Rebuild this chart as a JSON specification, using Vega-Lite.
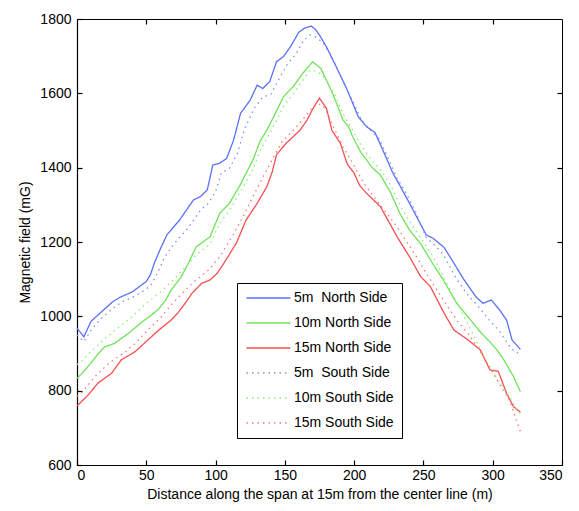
{
"$schema": "https://vega.github.io/schema/vega-lite/v6.json",
"width": 485, "height": 446,
"autosize": "none",
"padding": {"left": 77, "top": 19, "right": 17, "bottom": 46},
"background": "white",
"config": {
  "view": {"stroke": "black", "strokeWidth": 1},
  "font": "Liberation Sans",
  "axis": {"domainColor": "black", "tickColor": "black", "labelColor": "black", "titleColor": "black", "labelFont": "Liberation Sans", "titleFont": "Liberation Sans", "labelFontSize": 14, "titleFontSize": 14, "titleFontWeight": "normal", "grid": false, "tickSize": -5, "domainWidth": 1.2, "tickWidth": 1.2}
},
"datasets": {
"pts": [
{"s":"5m\u00a0 North Side","x":0,"y":968},{"s":"5m\u00a0 North Side","x":5,"y":945},{"s":"5m\u00a0 North Side","x":10,"y":986},{"s":"5m\u00a0 North Side","x":17,"y":1010},{"s":"5m\u00a0 North Side","x":26,"y":1040},{"s":"5m\u00a0 North Side","x":31,"y":1051},{"s":"5m\u00a0 North Side","x":40,"y":1066},{"s":"5m\u00a0 North Side","x":45,"y":1080},{"s":"5m\u00a0 North Side","x":50,"y":1094},{"s":"5m\u00a0 North Side","x":53,"y":1112},{"s":"5m\u00a0 North Side","x":56,"y":1145},{"s":"5m\u00a0 North Side","x":60,"y":1180},{"s":"5m\u00a0 North Side","x":65,"y":1220},{"s":"5m\u00a0 North Side","x":74,"y":1259},{"s":"5m\u00a0 North Side","x":84,"y":1313},{"s":"5m\u00a0 North Side","x":89,"y":1322},{"s":"5m\u00a0 North Side","x":94,"y":1340},{"s":"5m\u00a0 North Side","x":98,"y":1407},{"s":"5m\u00a0 North Side","x":103,"y":1412},{"s":"5m\u00a0 North Side","x":108,"y":1425},{"s":"5m\u00a0 North Side","x":113,"y":1474},{"s":"5m\u00a0 North Side","x":118,"y":1546},{"s":"5m\u00a0 North Side","x":125,"y":1582},{"s":"5m\u00a0 North Side","x":130,"y":1622},{"s":"5m\u00a0 North Side","x":134,"y":1613},{"s":"5m\u00a0 North Side","x":139,"y":1631},{"s":"5m\u00a0 North Side","x":144,"y":1685},{"s":"5m\u00a0 North Side","x":149,"y":1699},{"s":"5m\u00a0 North Side","x":154,"y":1725},{"s":"5m\u00a0 North Side","x":160,"y":1764},{"s":"5m\u00a0 North Side","x":164,"y":1775},{"s":"5m\u00a0 North Side","x":169,"y":1781},{"s":"5m\u00a0 North Side","x":172,"y":1772},{"s":"5m\u00a0 North Side","x":175,"y":1757},{"s":"5m\u00a0 North Side","x":180,"y":1725},{"s":"5m\u00a0 North Side","x":187,"y":1672},{"s":"5m\u00a0 North Side","x":195,"y":1609},{"s":"5m\u00a0 North Side","x":203,"y":1537},{"s":"5m\u00a0 North Side","x":209,"y":1510},{"s":"5m\u00a0 North Side","x":215,"y":1495},{"s":"5m\u00a0 North Side","x":221,"y":1445},{"s":"5m\u00a0 North Side","x":228,"y":1385},{"s":"5m\u00a0 North Side","x":233,"y":1352},{"s":"5m\u00a0 North Side","x":240,"y":1304},{"s":"5m\u00a0 North Side","x":252,"y":1219},{"s":"5m\u00a0 North Side","x":257,"y":1210},{"s":"5m\u00a0 North Side","x":265,"y":1185},{"s":"5m\u00a0 North Side","x":272,"y":1143},{"s":"5m\u00a0 North Side","x":279,"y":1100},{"s":"5m\u00a0 North Side","x":288,"y":1052},{"s":"5m\u00a0 North Side","x":293,"y":1035},{"s":"5m\u00a0 North Side","x":299,"y":1044},{"s":"5m\u00a0 North Side","x":305,"y":1017},{"s":"5m\u00a0 North Side","x":310,"y":990},{"s":"5m\u00a0 North Side","x":314,"y":936},{"s":"5m\u00a0 North Side","x":320,"y":911},

{"s":"10m North Side","x":0,"y":833},{"s":"10m North Side","x":5,"y":852},{"s":"10m North Side","x":10,"y":874},{"s":"10m North Side","x":15,"y":898},{"s":"10m North Side","x":20,"y":918},{"s":"10m North Side","x":27,"y":927},{"s":"10m North Side","x":37,"y":954},{"s":"10m North Side","x":47,"y":985},{"s":"10m North Side","x":54,"y":1004},{"s":"10m North Side","x":59,"y":1020},{"s":"10m North Side","x":64,"y":1044},{"s":"10m North Side","x":68,"y":1071},{"s":"10m North Side","x":75,"y":1105},{"s":"10m North Side","x":80,"y":1140},{"s":"10m North Side","x":86,"y":1187},{"s":"10m North Side","x":96,"y":1214},{"s":"10m North Side","x":103,"y":1277},{"s":"10m North Side","x":110,"y":1304},{"s":"10m North Side","x":118,"y":1355},{"s":"10m North Side","x":122,"y":1385},{"s":"10m North Side","x":127,"y":1421},{"s":"10m North Side","x":132,"y":1470},{"s":"10m North Side","x":137,"y":1501},{"s":"10m North Side","x":143,"y":1545},{"s":"10m North Side","x":149,"y":1591},{"s":"10m North Side","x":156,"y":1618},{"s":"10m North Side","x":163,"y":1654},{"s":"10m North Side","x":170,"y":1685},{"s":"10m North Side","x":176,"y":1667},{"s":"10m North Side","x":180,"y":1635},{"s":"10m North Side","x":185,"y":1595},{"s":"10m North Side","x":192,"y":1528},{"s":"10m North Side","x":196,"y":1510},{"s":"10m North Side","x":199,"y":1483},{"s":"10m North Side","x":205,"y":1440},{"s":"10m North Side","x":209,"y":1421},{"s":"10m North Side","x":213,"y":1400},{"s":"10m North Side","x":219,"y":1380},{"s":"10m North Side","x":226,"y":1335},{"s":"10m North Side","x":233,"y":1277},{"s":"10m North Side","x":240,"y":1232},{"s":"10m North Side","x":248,"y":1195},{"s":"10m North Side","x":257,"y":1140},{"s":"10m North Side","x":264,"y":1100},{"s":"10m North Side","x":274,"y":1035},{"s":"10m North Side","x":283,"y":995},{"s":"10m North Side","x":291,"y":958},{"s":"10m North Side","x":297,"y":935},{"s":"10m North Side","x":303,"y":910},{"s":"10m North Side","x":308,"y":883},{"s":"10m North Side","x":315,"y":838},{"s":"10m North Side","x":320,"y":797},

{"s":"15m North Side","x":0,"y":759},{"s":"15m North Side","x":8,"y":788},{"s":"15m North Side","x":15,"y":820},{"s":"15m North Side","x":25,"y":847},{"s":"15m North Side","x":32,"y":883},{"s":"15m North Side","x":42,"y":905},{"s":"15m North Side","x":51,"y":936},{"s":"15m North Side","x":59,"y":963},{"s":"15m North Side","x":68,"y":990},{"s":"15m North Side","x":73,"y":1010},{"s":"15m North Side","x":78,"y":1035},{"s":"15m North Side","x":83,"y":1062},{"s":"15m North Side","x":90,"y":1089},{"s":"15m North Side","x":96,"y":1098},{"s":"15m North Side","x":101,"y":1115},{"s":"15m North Side","x":106,"y":1143},{"s":"15m North Side","x":115,"y":1197},{"s":"15m North Side","x":122,"y":1259},{"s":"15m North Side","x":130,"y":1304},{"s":"15m North Side","x":137,"y":1349},{"s":"15m North Side","x":141,"y":1390},{"s":"15m North Side","x":144,"y":1435},{"s":"15m North Side","x":151,"y":1466},{"s":"15m North Side","x":161,"y":1501},{"s":"15m North Side","x":166,"y":1528},{"s":"15m North Side","x":171,"y":1564},{"s":"15m North Side","x":175,"y":1587},{"s":"15m North Side","x":180,"y":1560},{"s":"15m North Side","x":184,"y":1500},{"s":"15m North Side","x":190,"y":1466},{"s":"15m North Side","x":195,"y":1410},{"s":"15m North Side","x":200,"y":1385},{"s":"15m North Side","x":204,"y":1352},{"s":"15m North Side","x":209,"y":1331},{"s":"15m North Side","x":219,"y":1295},{"s":"15m North Side","x":223,"y":1268},{"s":"15m North Side","x":231,"y":1214},{"s":"15m North Side","x":240,"y":1160},{"s":"15m North Side","x":248,"y":1107},{"s":"15m North Side","x":255,"y":1080},{"s":"15m North Side","x":265,"y":1008},{"s":"15m North Side","x":272,"y":963},{"s":"15m North Side","x":281,"y":940},{"s":"15m North Side","x":291,"y":910},{"s":"15m North Side","x":298,"y":856},{"s":"15m North Side","x":304,"y":852},{"s":"15m North Side","x":310,"y":793},{"s":"15m North Side","x":315,"y":757},{"s":"15m North Side","x":320,"y":742},

{"s":"5m\u00a0 South Side","x":0,"y":950},{"s":"5m\u00a0 South Side","x":5,"y":932},{"s":"5m\u00a0 South Side","x":10,"y":962},{"s":"5m\u00a0 South Side","x":17,"y":993},{"s":"5m\u00a0 South Side","x":26,"y":1022},{"s":"5m\u00a0 South Side","x":33,"y":1040},{"s":"5m\u00a0 South Side","x":41,"y":1053},{"s":"5m\u00a0 South Side","x":47,"y":1066},{"s":"5m\u00a0 South Side","x":53,"y":1082},{"s":"5m\u00a0 South Side","x":58,"y":1115},{"s":"5m\u00a0 South Side","x":63,"y":1158},{"s":"5m\u00a0 South Side","x":70,"y":1195},{"s":"5m\u00a0 South Side","x":80,"y":1237},{"s":"5m\u00a0 South Side","x":89,"y":1285},{"s":"5m\u00a0 South Side","x":95,"y":1305},{"s":"5m\u00a0 South Side","x":100,"y":1335},{"s":"5m\u00a0 South Side","x":104,"y":1385},{"s":"5m\u00a0 South Side","x":110,"y":1398},{"s":"5m\u00a0 South Side","x":116,"y":1440},{"s":"5m\u00a0 South Side","x":121,"y":1505},{"s":"5m\u00a0 South Side","x":128,"y":1560},{"s":"5m\u00a0 South Side","x":134,"y":1590},{"s":"5m\u00a0 South Side","x":140,"y":1598},{"s":"5m\u00a0 South Side","x":146,"y":1640},{"s":"5m\u00a0 South Side","x":152,"y":1680},{"s":"5m\u00a0 South Side","x":158,"y":1705},{"s":"5m\u00a0 South Side","x":163,"y":1740},{"s":"5m\u00a0 South Side","x":168,"y":1757},{"s":"5m\u00a0 South Side","x":172,"y":1752},{"s":"5m\u00a0 South Side","x":177,"y":1738},{"s":"5m\u00a0 South Side","x":183,"y":1705},{"s":"5m\u00a0 South Side","x":190,"y":1650},{"s":"5m\u00a0 South Side","x":197,"y":1595},{"s":"5m\u00a0 South Side","x":205,"y":1530},{"s":"5m\u00a0 South Side","x":212,"y":1500},{"s":"5m\u00a0 South Side","x":218,"y":1478},{"s":"5m\u00a0 South Side","x":224,"y":1430},{"s":"5m\u00a0 South Side","x":231,"y":1372},{"s":"5m\u00a0 South Side","x":237,"y":1335},{"s":"5m\u00a0 South Side","x":244,"y":1285},{"s":"5m\u00a0 South Side","x":252,"y":1212},{"s":"5m\u00a0 South Side","x":258,"y":1192},{"s":"5m\u00a0 South Side","x":264,"y":1168},{"s":"5m\u00a0 South Side","x":274,"y":1100},{"s":"5m\u00a0 South Side","x":281,"y":1062},{"s":"5m\u00a0 South Side","x":290,"y":1025},{"s":"5m\u00a0 South Side","x":298,"y":988},{"s":"5m\u00a0 South Side","x":305,"y":960},{"s":"5m\u00a0 South Side","x":312,"y":920},{"s":"5m\u00a0 South Side","x":316,"y":905},{"s":"5m\u00a0 South Side","x":320,"y":899},

{"s":"10m South Side","x":0,"y":870},{"s":"10m South Side","x":3,"y":878},{"s":"10m South Side","x":10,"y":905},{"s":"10m South Side","x":20,"y":940},{"s":"10m South Side","x":30,"y":970},{"s":"10m South Side","x":40,"y":1000},{"s":"10m South Side","x":50,"y":1035},{"s":"10m South Side","x":60,"y":1065},{"s":"10m South Side","x":70,"y":1100},{"s":"10m South Side","x":80,"y":1140},{"s":"10m South Side","x":86,"y":1165},{"s":"10m South Side","x":96,"y":1195},{"s":"10m South Side","x":103,"y":1250},{"s":"10m South Side","x":110,"y":1285},{"s":"10m South Side","x":118,"y":1335},{"s":"10m South Side","x":122,"y":1362},{"s":"10m South Side","x":127,"y":1395},{"s":"10m South Side","x":132,"y":1445},{"s":"10m South Side","x":137,"y":1478},{"s":"10m South Side","x":143,"y":1520},{"s":"10m South Side","x":149,"y":1565},{"s":"10m South Side","x":156,"y":1598},{"s":"10m South Side","x":163,"y":1635},{"s":"10m South Side","x":168,"y":1662},{"s":"10m South Side","x":172,"y":1660},{"s":"10m South Side","x":177,"y":1650},{"s":"10m South Side","x":185,"y":1605},{"s":"10m South Side","x":192,"y":1545},{"s":"10m South Side","x":199,"y":1500},{"s":"10m South Side","x":205,"y":1460},{"s":"10m South Side","x":213,"y":1418},{"s":"10m South Side","x":219,"y":1395},{"s":"10m South Side","x":226,"y":1355},{"s":"10m South Side","x":233,"y":1300},{"s":"10m South Side","x":240,"y":1255},{"s":"10m South Side","x":248,"y":1212},{"s":"10m South Side","x":257,"y":1160},{"s":"10m South Side","x":264,"y":1110},{"s":"10m South Side","x":270,"y":1065},{"s":"10m South Side","x":277,"y":1017},{"s":"10m South Side","x":286,"y":950},{"s":"10m South Side","x":291,"y":912},{"s":"10m South Side","x":296,"y":876},{"s":"10m South Side","x":305,"y":822},{"s":"10m South Side","x":312,"y":784},{"s":"10m South Side","x":317,"y":750},{"s":"10m South Side","x":320,"y":738},

{"s":"15m South Side","x":0,"y":785},{"s":"15m South Side","x":3,"y":793},{"s":"15m South Side","x":13,"y":838},{"s":"15m South Side","x":23,"y":874},{"s":"15m South Side","x":35,"y":905},{"s":"15m South Side","x":42,"y":927},{"s":"15m South Side","x":51,"y":963},{"s":"15m South Side","x":61,"y":999},{"s":"15m South Side","x":68,"y":1031},{"s":"15m South Side","x":76,"y":1062},{"s":"15m South Side","x":85,"y":1095},{"s":"15m South Side","x":95,"y":1125},{"s":"15m South Side","x":103,"y":1160},{"s":"15m South Side","x":112,"y":1215},{"s":"15m South Side","x":120,"y":1270},{"s":"15m South Side","x":128,"y":1330},{"s":"15m South Side","x":135,"y":1380},{"s":"15m South Side","x":142,"y":1430},{"s":"15m South Side","x":148,"y":1470},{"s":"15m South Side","x":156,"y":1500},{"s":"15m South Side","x":163,"y":1530},{"s":"15m South Side","x":169,"y":1558},{"s":"15m South Side","x":174,"y":1573},{"s":"15m South Side","x":179,"y":1560},{"s":"15m South Side","x":185,"y":1510},{"s":"15m South Side","x":192,"y":1456},{"s":"15m South Side","x":199,"y":1412},{"s":"15m South Side","x":207,"y":1358},{"s":"15m South Side","x":216,"y":1313},{"s":"15m South Side","x":231,"y":1241},{"s":"15m South Side","x":245,"y":1160},{"s":"15m South Side","x":255,"y":1098},{"s":"15m South Side","x":265,"y":1040},{"s":"15m South Side","x":275,"y":985},{"s":"15m South Side","x":283,"y":950},{"s":"15m South Side","x":291,"y":905},{"s":"15m South Side","x":303,"y":829},{"s":"15m South Side","x":312,"y":775},{"s":"15m South Side","x":317,"y":721},{"s":"15m South Side","x":320,"y":690}
]
},
"data": {"name": "pts"},
"layer": [
  {
    "mark": {"type": "line", "strokeWidth": 1.3},
    "encoding": {
      "x": {"field": "x", "type": "quantitative", "scale": {"domain": [0, 350], "nice": false},
            "axis": {"orient": "bottom", "values": [0,50,100,150,200,250,300,350], "format": "d", "title": "Distance along the span at 15m from the center line (m)", "labelPadding": 8, "titlePadding": 5}},
      "y": {"field": "y", "type": "quantitative", "scale": {"domain": [600, 1800], "nice": false},
            "axis": {"orient": "left", "values": [600,800,1000,1200,1400,1600,1800], "format": "d", "title": "Magnetic field (mG)", "labelPadding": 11, "titlePadding": 7}},
      "color": {"field": "s", "type": "nominal",
                "scale": {"domain": ["5m\u00a0 North Side","10m North Side","15m North Side","5m\u00a0 South Side","10m South Side","15m South Side"],
                          "range": ["#5b70f7","#6fe35a","#f54f4f","#7d8ff9","#8fea7c","#f77a7a"]},
                "legend": {"orient": "none", "legendX": 160, "legendY": 264, "title": null, "strokeColor": "black", "fillColor": "white", "padding": 8, "cornerRadius": 0, "symbolType": "M-1,0H7", "symbolSize": 121, "symbolStrokeWidth": 1.5, "labelFontSize": 14, "labelFont": "Liberation Sans", "labelColor": "black", "labelOffset": 35, "rowPadding": 11}},
      "strokeDash": {"field": "s", "type": "nominal",
                "scale": {"domain": ["5m\u00a0 North Side","10m North Side","15m North Side","5m\u00a0 South Side","10m South Side","15m South Side"],
                          "range": [[1,0],[1,0],[1,0],[1.5,4],[1.5,4],[1.5,4]]},
                "legend": {"orient": "none", "legendX": 160, "legendY": 264, "title": null, "strokeColor": "black", "fillColor": "white", "padding": 8, "cornerRadius": 0, "symbolType": "M-1,0H7", "symbolSize": 121, "symbolStrokeWidth": 1.5, "labelFontSize": 14, "labelFont": "Liberation Sans", "labelColor": "black", "labelOffset": 35, "rowPadding": 11}}
    }
  },
  {
    "mark": {"type": "line", "opacity": 0},
    "encoding": {
      "x": {"field": "x", "type": "quantitative", "axis": {"orient": "top", "values": [50,100,150,200,250,300], "labels": false, "title": null, "domain": false}},
      "y": {"field": "y", "type": "quantitative", "axis": {"orient": "right", "values": [800,1000,1200,1400,1600], "labels": false, "title": null, "domain": false}},
      "detail": {"field": "s", "type": "nominal"}
    }
  }
],
"resolve": {"axis": {"x": "independent", "y": "independent"}}
}
